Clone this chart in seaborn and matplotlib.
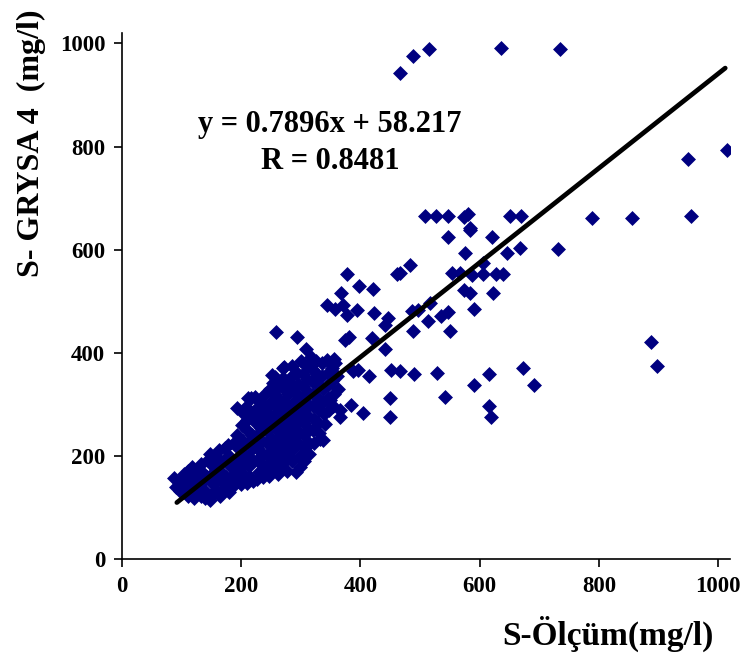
import numpy as np
import pandas as pd
import matplotlib
matplotlib.use("Agg")
import matplotlib.pyplot as plt
import seaborn as sns

# ---- data ----
meas_x = [
    88, 90, 95, 97,
    104, 106, 108, 111, 112, 114, 110,
    118, 120, 122, 124, 120, 126, 128,
    132, 134, 136, 138, 133, 140, 142, 144,
    148, 150, 151, 152, 150, 148, 156, 157, 158, 159,
    162, 164, 166, 167, 168, 165, 172, 173, 174, 175,
    178, 180, 182, 184, 185, 180, 188, 189, 190, 187,
    193, 194, 196, 197, 198, 200, 201, 202, 203, 204, 205, 201,
    208, 209, 210, 211, 212, 213, 214, 210, 216, 217, 218, 219, 220, 219,
    223, 224, 225, 226, 227, 228, 229, 226, 232, 233, 234, 235, 236, 233, 236,
    240, 241, 242, 243, 244, 245, 243, 246, 249, 250, 249, 251, 250, 252, 250, 248,
    254, 255, 256, 257, 258, 257, 259, 256, 262, 251, 259, 263, 264, 265, 264, 266, 265, 266, 267,
    271, 270, 272, 271, 273, 274, 272, 275, 274, 276, 278, 279, 280, 281, 280, 282, 281,
    285, 286, 287, 288, 289, 287, 290, 288, 286, 292, 293, 294, 295, 296, 296, 297, 295, 296, 298, 298,
    301, 303, 304, 305, 304, 306, 305, 307, 305, 309, 310, 311, 312, 313, 312, 314, 312, 313,
    317, 318, 319, 320, 321, 322, 320, 322, 326, 327, 328, 329, 330, 329, 331, 332, 338,
    335, 336, 337, 338, 339, 341, 344, 345, 346, 345, 347, 349, 352, 353, 355, 354, 358, 360, 362, 366, 366,
    374, 212, 193, 220, 257, 270, 388,
    377, 461, 398, 421, 367, 344, 357, 371, 377, 395, 422, 447, 441, 496,
    380, 419, 441, 355, 396, 415, 452, 450, 450, 405, 385,
    547, 584, 620, 575, 646, 667, 732, 483, 466, 553, 567, 587, 606, 628, 640, 606,
    573, 584, 623, 591, 486, 517, 514, 536, 547, 489, 551, 887, 898, 466, 490, 528,
    616, 672, 591, 692, 542, 615, 619,
    466, 488, 515, 636, 735, 789, 855, 954, 950, 1015,
    508, 527, 547, 573, 581, 584, 651, 670,
]
grysa_y = [
    158, 140, 150, 132,
    165, 145, 130, 172, 155, 138, 122,
    178, 160, 143, 128, 118, 168, 150,
    185, 170, 152, 135, 122, 118, 160, 192,
    205, 185, 165, 145, 125, 115, 200, 175, 135, 155,
    212, 190, 170, 150, 130, 122, 215, 195, 160, 140,
    222, 200, 180, 160, 140, 130, 225, 190, 168, 150,
    240, 215, 195, 175, 155, 145, 286, 260, 230, 205, 185, 168,
    296, 270, 250, 225, 200, 180, 160, 148, 312, 283, 240, 215, 190, 152,
    315, 292, 265, 240, 215, 195, 170, 155, 305, 280, 255, 230, 205, 185, 160,
    320, 295, 270, 248, 225, 200, 178, 162, 330, 305, 280, 258, 235, 212, 190, 170,
    341, 320, 298, 275, 252, 228, 205, 183, 165, 357, 441, 335, 310, 288, 262, 240, 218, 195, 175,
    373, 352, 330, 305, 282, 258, 235, 212, 190, 172, 345, 320, 298, 270, 248, 225, 200,
    375, 355, 330, 305, 285, 260, 238, 215, 190, 170, 430, 362, 340, 318, 295, 270, 248, 225, 200, 178,
    385, 360, 335, 312, 288, 265, 240, 215, 190, 408, 375, 350, 325, 300, 278, 252, 228, 205,
    392, 368, 345, 320, 298, 272, 250, 225, 385, 360, 338, 312, 290, 265, 245, 234, 231,
    380, 355, 330, 305, 282, 262, 386, 362, 338, 312, 290, 309, 370, 345, 320, 298, 380, 355, 330, 289, 276,
    425, 312, 293, 283, 354, 370, 364,
    553, 553, 530, 524, 517, 493, 486, 493, 473, 483, 477, 467, 454, 483,
    430, 428, 407, 389, 367, 355, 367, 312, 276, 283, 299,
    624, 638, 624, 594, 594, 603, 601, 570, 555, 554, 554, 551, 553, 553, 553, 574,
    522, 516, 516, 486, 482, 496, 462, 471, 480, 443, 443, 422, 375, 364, 360, 362,
    360, 370, 338, 338, 315, 297, 276,
    942, 975, 989, 990, 989, 661, 661, 666, 775, 793,
    666, 666, 666, 664, 670, 643, 666, 666,
]
fit_x = [92, 1012]
fit_y = [110, 952]
x_ticks = [0, 200, 400, 600, 800, 1000]
y_ticks = [0, 200, 400, 600, 800, 1000]
x_label = "S-Ölçüm(mg/l)"
y_label = "S- GRYSA 4  (mg/l)"
eq_text = "y = 0.7896x + 58.217"
r_text = "R = 0.8481"

df = pd.DataFrame({"x": meas_x, "y": grysa_y})
fit_df = pd.DataFrame({"x": fit_x, "y": fit_y})

sns.set_theme(style="white")
plt.rcParams["font.family"] = ["Liberation Serif", "DejaVu Serif"]
plt.rcParams["font.weight"] = "bold"

fig = plt.figure(figsize=(7.41, 6.55), dpi=100)
ax = fig.add_axes([122 / 741, (655 - 559.3) / 655, (730 - 122) / 741, (559.3 - 33) / 655])

sns.scatterplot(data=df, x="x", y="y", ax=ax, marker="D", s=58, color="#000080",
                linewidth=0, zorder=2, legend=False)
sns.lineplot(data=fit_df, x="x", y="y", ax=ax, color="black", linewidth=3.4,
             zorder=3, legend=False)

ax.set_xlim(0, 1020)
ax.set_ylim(0, 1020)
ax.set_xticks(x_ticks)
ax.set_yticks(y_ticks)
ax.set_xticklabels([str(v) for v in x_ticks], fontsize=16.5, fontweight="bold")
ax.set_yticklabels([str(v) for v in y_ticks], fontsize=16.5, fontweight="bold")
ax.tick_params(axis="both", direction="out", length=6, width=1.2, color="black",
               bottom=True, left=True, pad=6, labelcolor="black")

for side in ["top", "right"]:
    ax.spines[side].set_visible(False)
for side in ["left", "bottom"]:
    ax.spines[side].set_color("black")
    ax.spines[side].set_linewidth(1.2)

ax.set_xlabel("")
ax.set_ylabel("")
fig.text(714 / 741, 1 - 634 / 655, x_label, ha="right", va="center",
         fontsize=24, fontweight="bold", color="black")
fig.text(31 / 741, 1 - 143 / 655, y_label, ha="center", va="center", rotation=90,
         fontsize=23, fontweight="bold", color="black")

ax.text(349, 842, eq_text, ha="center", va="center", fontsize=22,
        fontweight="bold", color="black")
ax.text(349, 770, r_text, ha="center", va="center", fontsize=22,
        fontweight="bold", color="black")

fig.savefig("out.png", dpi=100)
